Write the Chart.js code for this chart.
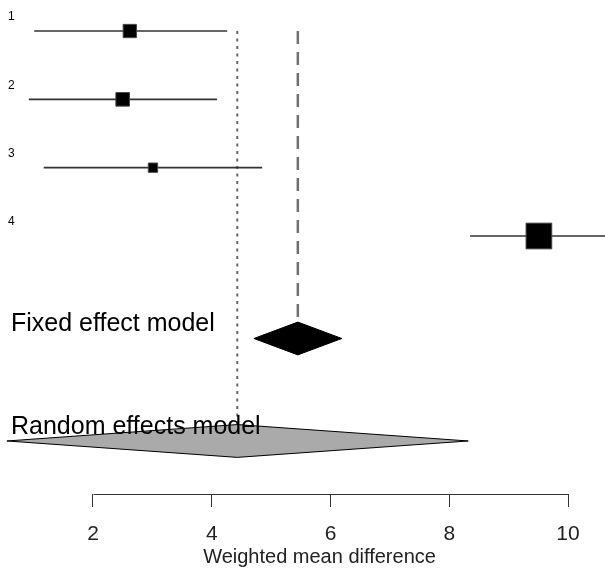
<!DOCTYPE html>
<html>
<head>
<meta charset="utf-8">
<script src="https://cdn.jsdelivr.net/npm/chart.js@4"></script>
<style>
html, body { margin: 0; padding: 0; background: #fff; }
#wrap { width: 605px; height: 571px; }
</style>
</head>
<body>
<div id="wrap"><canvas id="forestChart"></canvas></div>
<script>
// studies
var studyLabels = ["1", "2", "3", "4"];
var estimates = [2.62, 2.50, 3.01, 9.51];
var lowerCI = [1.01, 0.92, 1.17, 8.35];
var upperCI = [4.26, 4.09, 4.85, 10.67];
var weights = [16.5, 17.2, 8.6, 57.7];

// pooled models
var modelLabels = ["Fixed effect model", "Random effects model"];
var pooledEst = [5.45, 4.43];
var pooledLower = [4.71, 0.55];
var pooledUpper = [6.19, 8.32];

var tickValues = [2, 4, 6, 8, 10];
var xTitle = "Weighted mean difference";

var studyRows = [1, 2, 3, 4];
var modelRows = [5.5, 7];
var dh = 0.24; // diamond half height in rows

var FONT = "'Liberation Sans', Arial, sans-serif";

function diamond(i) {
  var r = modelRows[i];
  return [
    {x: pooledLower[i], y: r},
    {x: pooledEst[i], y: r - dh},
    {x: pooledUpper[i], y: r},
    {x: pooledEst[i], y: r + dh},
    {x: pooledLower[i], y: r}
  ];
}

var datasets = [];

// confidence intervals
studyRows.forEach(function(r, i) {
  datasets.push({
    data: [{x: lowerCI[i], y: r}, {x: upperCI[i], y: r}],
    borderColor: '#333',
    borderWidth: 1.6,
    pointRadius: 0,
    order: 3
  });
});

// boxes
datasets.push({
  data: studyRows.map(function(r, i) { return {x: estimates[i], y: r}; }),
  showLine: false,
  pointStyle: 'rect',
  pointRadius: weights.map(function(w) { return (26.7 * Math.sqrt(w / 57.7) - 1) / Math.SQRT2; }),
  pointBackgroundColor: '#000',
  pointBorderColor: '#444',
  pointBorderWidth: 1,
  order: 1
});

// fixed effect line (dashed) and random effects line (dotted)
datasets.push({
  data: [{x: pooledEst[0], y: studyRows[0]}, {x: pooledEst[0], y: modelRows[0] - dh}],
  borderColor: '#707070',
  borderWidth: 2.5,
  borderDash: [13, 8],
  pointRadius: 0,
  order: 4
});
datasets.push({
  data: [{x: pooledEst[1], y: studyRows[0]}, {x: pooledEst[1], y: modelRows[1] - dh}],
  borderColor: '#666',
  borderWidth: 2,
  borderDash: [3, 4.5],
  pointRadius: 0,
  order: 4
});

// diamonds
datasets.push({
  data: diamond(0),
  borderColor: '#000',
  backgroundColor: '#000',
  borderWidth: 1,
  fill: 'shape',
  pointRadius: 0,
  tension: 0,
  order: 2
});
datasets.push({
  data: diamond(1),
  borderColor: '#000',
  backgroundColor: '#aaaaaa',
  borderWidth: 1,
  fill: 'shape',
  pointRadius: 0,
  tension: 0,
  order: 2
});

var textPlugin = {
  id: 'forestText',
  afterDatasetsDraw: function(chart) {
    var ctx = chart.ctx;
    var y = chart.scales.y;
    var x = chart.scales.x;
    ctx.save();
    ctx.fillStyle = '#000';
    ctx.textAlign = 'left';
    ctx.font = '12px ' + FONT;
    ctx.textBaseline = 'middle';
    studyLabels.forEach(function(t, i) {
      ctx.fillText(t, 8, y.getPixelForValue(studyRows[i]) - 14);
    });
    ctx.font = '25px ' + FONT;
    ctx.textBaseline = 'alphabetic';
    modelLabels.forEach(function(t, i) {
      ctx.fillText(t, 11, y.getPixelForValue(modelRows[i]) - 7);
    });
    // axis title, centred a little right of the canvas middle
    ctx.fillStyle = '#222';
    ctx.font = '20px ' + FONT;
    ctx.textAlign = 'center';
    ctx.textBaseline = 'middle';
    ctx.fillText(xTitle, (x.left + x.right) / 2 + 17, x.bottom - 14);
    // x axis line spanning the ticks only
    ctx.strokeStyle = '#333';
    ctx.lineWidth = 1;
    ctx.beginPath();
    ctx.moveTo(Math.round(x.getPixelForValue(tickValues[0])) + 0.5, Math.round(x.top) + 0.5);
    ctx.lineTo(Math.round(x.getPixelForValue(tickValues[tickValues.length - 1])) + 0.5, Math.round(x.top) + 0.5);
    ctx.stroke();
    ctx.restore();
  }
};

new Chart(document.getElementById('forestChart'), {
  type: 'line',
  data: { datasets: datasets },
  options: {
    responsive: true,
    maintainAspectRatio: false,
    animation: false,
    layout: { padding: 0, autoPadding: false },
    plugins: { legend: { display: false }, tooltip: { enabled: false } },
    scales: {
      x: {
        type: 'linear',
        min: 0.434,
        max: 10.623,
        afterBuildTicks: function(s) { s.ticks = tickValues.map(function(v) { return {value: v}; }); },
        afterFit: function(s) { s.height = 77; },
        border: { display: false },
        grid: { drawOnChartArea: false, drawTicks: true, tickLength: 13, color: '#333' },
        ticks: { font: { size: 21, family: FONT }, color: '#222', padding: 15, maxRotation: 0 },
        title: { display: false }
      },
      y: {
        type: 'linear',
        display: false,
        reverse: true,
        min: 0.546,
        max: 7.776
      }
    }
  },
  plugins: [textPlugin]
});
</script>
</body>
</html>
